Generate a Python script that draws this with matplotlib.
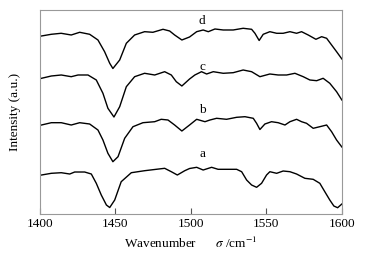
import matplotlib.pyplot as plt

plt.rcParams['font.family'] = ['Liberation Serif', 'DejaVu Serif']
plt.rcParams['mathtext.fontset'] = 'stix'

# Spectra (wavenumber in cm^-1, intensity offset already included)
wn_d = [1401, 1407.5, 1414, 1420.7, 1426.3, 1432.9, 1438.4, 1442.8, 1446.2, 1448.3, 1452.8,
        1457.2, 1462.7, 1469.3, 1474.8, 1481.5, 1485.9, 1489.2, 1494, 1499.1, 1503.8, 1508.1,
        1511.5, 1515.9, 1521.4, 1528, 1534.6, 1540.2, 1542.4, 1545.2, 1547.9, 1552.3, 1556.8,
        1561.1, 1565.6, 1570, 1573.3, 1577.7, 1582.8, 1586.6, 1589.9, 1593.2, 1596.5, 1600]
int_d = [178, 179.7, 180.7, 179, 181.7, 179.7, 174, 162.3, 150.7, 145.5, 154,
         170.7, 179, 182.3, 181.7, 184.7, 183, 179, 174, 177, 182.3, 184,
         182.3, 185, 184, 184, 185.7, 184.7, 180.7, 173.5, 179.7, 182.3, 180.7,
         180.7, 182.3, 180.7, 182.3, 179, 174.7, 177.3, 175.7, 169, 162.3, 155]

wn_c = [1401, 1407.5, 1414.1, 1420.7, 1425.2, 1431.8, 1437.3, 1441.7, 1445, 1449, 1452.8,
        1457.2, 1462.7, 1469.3, 1476, 1482.6, 1487, 1490.3, 1494, 1499.1, 1502.6, 1507,
        1510.4, 1514.8, 1521.4, 1528, 1534.6, 1540.2, 1545.7, 1552.3, 1557.8, 1563.4,
        1568.9, 1574.4, 1578.8, 1583.3, 1587.6, 1592, 1596.5, 1600]
int_c = [135.7, 138, 139, 137.3, 139, 139, 134, 120.7, 105.7, 97, 107.3,
         127.3, 137.3, 140.7, 139, 142.3, 139, 132.3, 128, 135, 139, 142.3,
         140, 142.3, 140.7, 141.3, 144, 142.3, 137.3, 140, 139, 139,
         140.7, 137.3, 134, 133.3, 135.7, 130.7, 122.3, 114]

wn_b = [1401, 1407.5, 1414.1, 1420.7, 1426.3, 1432.9, 1438.4, 1441.7, 1445, 1448.3, 1451.7,
        1456.1, 1461.6, 1468.2, 1476, 1480.3, 1484.8, 1489.2, 1494, 1499.1, 1503.8, 1509.3,
        1512.6, 1517, 1523.6, 1530.3, 1535.8, 1541.3, 1543.5, 1545.7, 1549, 1553.4, 1557.8,
        1562.3, 1565.6, 1570, 1573.3, 1576.6, 1581, 1585.4, 1589.9, 1593.2, 1596.5, 1600]
int_b = [89, 91.3, 91.3, 89, 91.3, 90, 84, 74, 60.7, 52.3, 57.3,
         75.7, 87.3, 91.3, 92.3, 94.7, 94, 89, 83, 89, 94.7, 92.3,
         94, 95.7, 94.7, 96.7, 97.3, 95.7, 90.7, 84.5, 90, 92.3, 91.3,
         89, 92.3, 94.7, 92.3, 90.7, 85.7, 87.3, 89, 82.3, 74, 67]

wn_a = [1401, 1407.5, 1414.1, 1419.7, 1423, 1429.6, 1434, 1437.3, 1440.6, 1444, 1446.2,
        1449.5, 1453.8, 1460.5, 1469.3, 1477, 1482.6, 1487, 1491, 1495.9, 1499.1, 1503.8,
        1508.1, 1513.7, 1518, 1523.6, 1530.3, 1533.6, 1536.9, 1540.2, 1543.5, 1546.8,
        1550.1, 1552.3, 1556.8, 1561.1, 1565.6, 1570, 1575.5, 1581, 1585.4, 1588.7, 1592,
        1594.7, 1597.2, 1600]
int_a = [39, 40.7, 41.3, 40, 42, 42, 40, 30.7, 19, 9, 6.5,
         14, 32.3, 41.3, 43.3, 44.7, 45.7, 42.3, 39, 43.3, 45.5, 46.7,
         44, 46.7, 44.7, 44.7, 44.7, 42.3, 34, 29, 26.7, 30.7,
         39, 42.3, 40.7, 43, 42.3, 40, 35.7, 34.7, 30.7, 22.3, 14,
         8, 6.3, 10]

labels = ['a', 'b', 'c', 'd']
label_wn = [1507.5, 1507.5, 1507.5, 1507.5]
label_int = [60, 104, 147, 193]

fig = plt.figure(figsize=(3.72, 2.56), dpi=100)
ax = fig.add_axes([0.1075, 0.164, 0.8115, 0.797])

for wn, inten in [(wn_a, int_a), (wn_b, int_b), (wn_c, int_c), (wn_d, int_d)]:
    ax.plot(wn, inten, color='black', lw=1.0, solid_joinstyle='round')

for lab, x, y in zip(labels, label_wn, label_int):
    ax.text(x, y, lab, fontsize=9.5, ha='center', va='center')

ax.set_xlim(1400, 1600)
ax.set_ylim(0, 204)
ax.set_xticks([1400, 1450, 1500, 1550, 1600])
ax.set_yticks([])
ax.tick_params(axis='x', direction='in', length=4, width=0.8, color='#555555',
               labelsize=9.5, pad=3)
for sp in ax.spines.values():
    sp.set_color('#999999')
    sp.set_linewidth(0.8)

ax.set_xlabel(r'Wavenumber      $\sigma$ /cm$^{-1}$', fontsize=9.5, labelpad=4)
ax.set_ylabel('Intensity (a.u.)', fontsize=9.5, labelpad=14)

plt.savefig('out.png', dpi=100)
